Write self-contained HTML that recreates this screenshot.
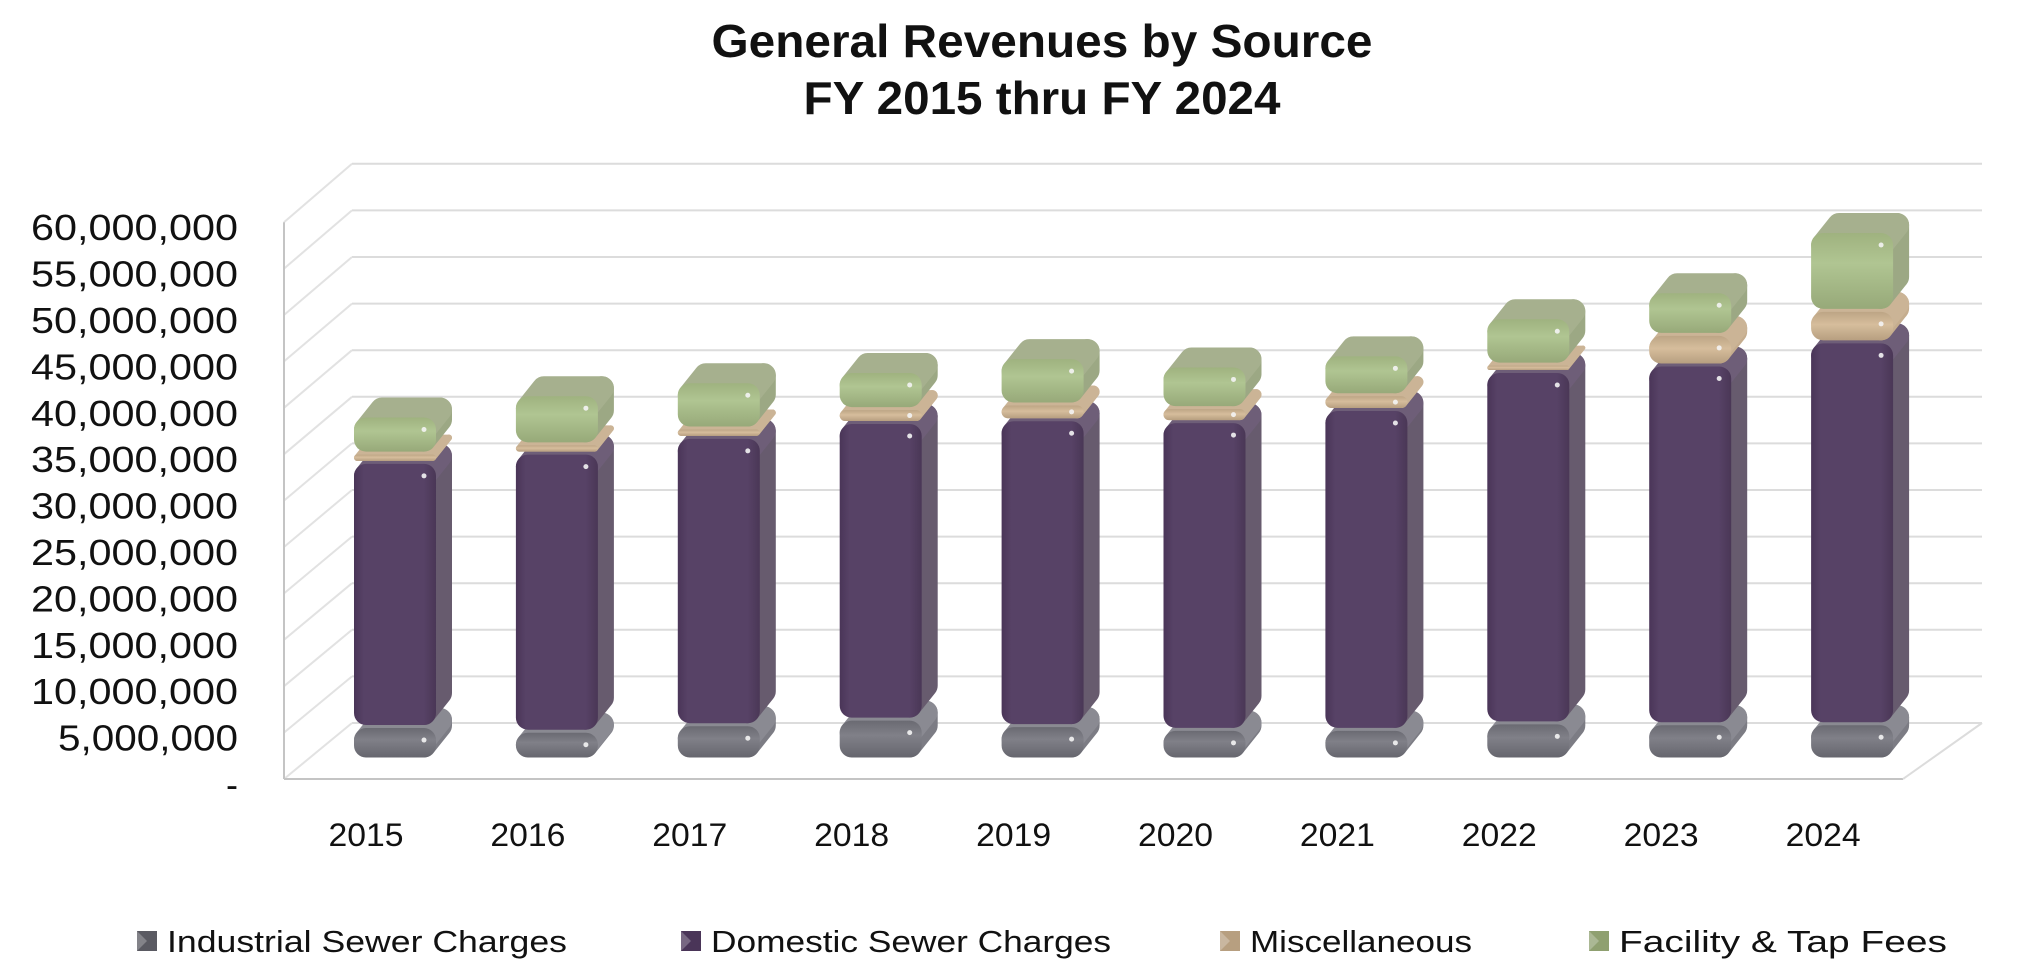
<!DOCTYPE html>
<html><head><meta charset="utf-8"><style>
html,body{margin:0;padding:0;background:#fff}
svg{display:block}
text{font-family:"Liberation Sans",sans-serif;fill:#111}
</style></head><body>
<svg id="chart" width="2042" height="968" viewBox="0 0 2042 968" xmlns="http://www.w3.org/2000/svg">
<defs>
<linearGradient id="gPur" x1="0" x2="1" y1="0" y2="0"><stop offset="0" stop-color="#4a3558"/><stop offset="0.12" stop-color="#574266"/><stop offset="0.85" stop-color="#574266"/><stop offset="1" stop-color="#4a3756"/></linearGradient>
<linearGradient id="gGray" x1="0" x2="0" y1="0" y2="1"><stop offset="0" stop-color="#6a6a72"/><stop offset="0.4" stop-color="#808088"/><stop offset="1" stop-color="#66666e"/></linearGradient>
<linearGradient id="gTan" x1="0" x2="0" y1="0" y2="1"><stop offset="0" stop-color="#bda585"/><stop offset="0.45" stop-color="#d6bd9c"/><stop offset="1" stop-color="#b79f80"/></linearGradient>
<linearGradient id="gGrn" x1="0" x2="0" y1="0" y2="1"><stop offset="0" stop-color="#9fb27f"/><stop offset="0.4" stop-color="#b0c592"/><stop offset="1" stop-color="#97a979"/></linearGradient>
</defs>
<g>
<text x="1042" y="57" text-anchor="middle" font-size="46" font-weight="bold" textLength="661" lengthAdjust="spacingAndGlyphs">General Revenues by Source</text>
<text x="1042" y="114" text-anchor="middle" font-size="46" font-weight="bold" textLength="477" lengthAdjust="spacingAndGlyphs">FY 2015 thru FY 2024</text>
</g>
<g id="grid"></g>
<g id="yaxis"></g>
<g id="bars"></g>
<g id="xaxis"></g>
<g id="legend"></g>
</svg>
<script>
const years = ['2015','2016','2017','2018','2019','2020','2021','2022','2023','2024'];
const industrial = [3.5,3.0,3.7,4.3,3.6,3.2,3.2,3.9,3.8,3.8];
const domestic = [28.5,30.0,31.0,32.0,33.0,33.2,34.5,37.9,38.7,41.2];
const misc = [1.0,1.0,1.0,1.5,1.7,1.5,1.6,0.8,3.3,3.4];
const facility = [4.0,5.3,5.0,4.0,5.0,4.5,4.3,5.0,4.6,8.5];
const yTicks = [0,5,10,15,20,25,30,35,40,45,50,55,60];
const yTickLabels = ['-','5,000,000','10,000,000','15,000,000','20,000,000','25,000,000','30,000,000','35,000,000','40,000,000','45,000,000','50,000,000','55,000,000','60,000,000'];
const seriesNames = ['Industrial Sewer Charges','Domestic Sewer Charges','Miscellaneous','Facility & Tap Fees'];

const NS='http://www.w3.org/2000/svg';
function mk(tag, attrs, parent){const e=document.createElementNS(NS,tag);for(const k in attrs)e.setAttribute(k,attrs[k]);parent.appendChild(e);return e;}
const yBack = v => 723 - v*9.32;
const yFront = v => 779 - v*9.28;
const yBar = v => 759 - v*9.27;
const xBar = i => 395 + i*161.9;

const grid=document.getElementById('grid');
yTicks.forEach(v=>{
  const l=mk('line',{x1:352,x2:1982,y1:yBack(v),y2:yBack(v),stroke:'#dcdcdc','stroke-width':2},grid);
  
  
  const d=mk('line',{x1:284,y1:yFront(v),x2:352,y2:yBack(v),stroke:'#e2e2e2','stroke-width':2},grid);
  
  
});
mk('line',{x1:284,y1:yFront(60),x2:284,y2:779,stroke:'#c4c4c4','stroke-width':2},grid);
mk('line',{x1:284,y1:779,x2:1903,y2:779,stroke:'#c4c4c4','stroke-width':2},grid);
mk('line',{x1:1903,y1:779,x2:1982,y2:723,stroke:'#dcdcdc','stroke-width':2},grid);

const ya=document.getElementById('yaxis');
yTicks.forEach((v,i)=>{
  const t=mk('text',{x:238,y:784-v/5*46.4+13,'text-anchor':'end','font-size':36},ya);
  if(v>0){t.setAttribute('textLength', yTickLabels[i].length>9?207:180);t.setAttribute('lengthAdjust','spacingAndGlyphs');}
  t.textContent=yTickLabels[i];
  
  
});

const segStyles=[
 {front:'url(#gGray)',side:'#7c7c84',top:'#8a8a92'},
 {front:'url(#gPur)',side:'#675b6e',top:'#6e5e78'},
 {front:'url(#gTan)',side:'#c5ad8e',top:'#cbb496'},
 {front:'url(#gGrn)',side:'#9ca884',top:'#a6b08e'}
];
const series=[industrial,domestic,misc,facility];
const bars=document.getElementById('bars');
const W=82, DX=16, DY=-20;
years.forEach((yr,i)=>{
  const g=mk('g',{},bars);
  
  
  let cum=0;
  series.forEach((s,k)=>{
    const v=s[i];
    const y0=yBar(cum)-1.5, y1=yBar(cum+v)+1.5;
    cum+=v;
    const xl=xBar(i)-W/2, xr=xBar(i)+W/2;
    const h=Math.max(y0-y1,2);
    const st=segStyles[k];
    const r=Math.min(12,h/2);
    const seg=mk('g',{},g);
    
    
    mk('polygon',{points:`${xr-r},${y1+r} ${xr-r+DX},${y1+r+DY} ${xr-r+DX},${y0-r+DY} ${xr-r},${y0-r}`,fill:st.side,stroke:st.side,'stroke-width':2*r,'stroke-linejoin':'round'},seg);
    mk('polygon',{points:`${xl+r},${y1+r} ${xl+r+DX},${y1+r+DY} ${xr-r+DX},${y1+r+DY} ${xr-r},${y1+r}`,fill:st.top,stroke:st.top,'stroke-width':2*r,'stroke-linejoin':'round'},seg);
    mk('rect',{x:xl,y:y1,width:W,height:h,rx:r,ry:r,fill:st.front},seg);
    if(h>10) mk('circle',{cx:xr-12,cy:y1+Math.min(12,h/2),r:2.5,fill:'#f4f4f4',opacity:0.9},seg);
  });
});

const xa=document.getElementById('xaxis');
years.forEach((yr,i)=>{
  const t=mk('text',{x:xBar(i)-29,y:846,'text-anchor':'middle','font-size':32,textLength:75,lengthAdjust:'spacingAndGlyphs'},xa);
  t.textContent=yr;
  
  
});

const lg=document.getElementById('legend');
const legX=[137,681,1220,1589];
const legTxtW=[400,400,222,328];
const legCol=['#5a5a62','#4a3558','#b79f80','#8fa070'];
seriesNames.forEach((n,i)=>{
  const g=mk('g',{},lg);
  
  
  mk('rect',{x:legX[i],y:931,width:20,height:20,fill:legCol[i]},g);
  mk('polygon',{points:`${legX[i]},${931} ${legX[i]+10},${941} ${legX[i]},${951}`,fill:'#fff',opacity:0.25},g);
  const t=mk('text',{x:legX[i]+30,y:952,'font-size':31,textLength:legTxtW[i],lengthAdjust:'spacingAndGlyphs'},g);
  t.textContent=n;
});
</script>
</body></html>
